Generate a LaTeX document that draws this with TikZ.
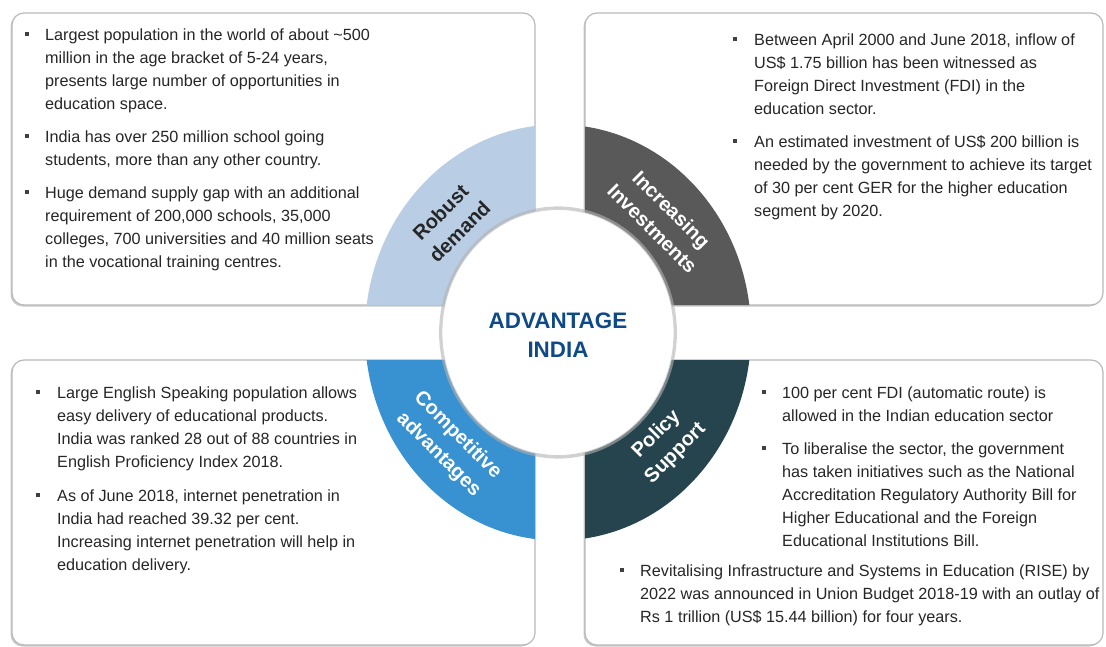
\documentclass[tikz,border=0pt]{standalone}
\usepackage{fontspec}
\setmainfont{Liberation Sans}
\usepackage{xcolor}
\usetikzlibrary{shapes.geometric,shadows}

\definecolor{demandblue}{RGB}{185,205,228}
\definecolor{investgray}{RGB}{89,89,89}
\definecolor{competeblue}{RGB}{56,145,208}
\definecolor{policyteal}{RGB}{38,68,78}
\definecolor{hubblue}{RGB}{13,74,135}
\definecolor{bodytext}{RGB}{38,38,38}
\definecolor{bulletgray}{RGB}{64,64,64}

\tikzset{
	panel/.style = {
			rectangle,
			rounded corners = 12pt,
			fill            = white,
			draw            = gray!55,
			line width      = 1.2pt,
			outer sep       = 0pt,
			inner sep       = 0pt,
			drop shadow     = {shadow xshift=-1.5pt, shadow yshift=-1.5pt, fill=gray!70, opacity=.6},
		},
	hub/.style = {
			ellipse,
			fill           = white,
			draw           = gray!35,
			line width     = .8pt,
			inner sep      = 0pt,
			minimum width  = 232pt,
			minimum height = 246pt,
			general shadow = {shadow scale=1.025, fill=gray!60, opacity=.6},
		},
	hubtitle/.style = {
			text      = hubblue,
			align     = center,
			inner sep = 0pt,
			font      = \bfseries\fontsize{22.4}{29}\selectfont,
		},
	ringlabel/.style = {
			align     = center,
			inner sep = 0pt,
			font      = \bfseries\fontsize{20}{27}\selectfont,
		},
	bullet/.style = {
			rectangle,
			fill         = bulletgray,
			minimum size = 4pt,
			inner sep    = 0pt,
		},
	para/.style = {
			anchor    = north west,
			align     = left,
			inner sep = 0pt,
			text      = bodytext,
			font      = \fontsize{16.2}{23}\selectfont,
		},
}

\begin{document}
\begin{tikzpicture}[x=1pt,y=-1pt]
	\useasboundingbox (0,0) rectangle (1106,647);
	% Panels
	\node[panel, minimum width=523pt, minimum height=292pt] (Robust demand) at (273.5,159) {};
	\node[panel, minimum width=518pt, minimum height=292pt] (Increasing Investments) at (844,159) {};
	\node[panel, minimum width=523pt, minimum height=285pt] (Competitive advantages) at (273.5,502.5) {};
	\node[panel, minimum width=518pt, minimum height=285pt] (Policy Support) at (844,502.5) {};

	\coordinate (Hub centre) at (558,332.5);

	% Ring quarters
	\begin{scope}
		\clip[rounded corners=12pt] (Robust demand.south west) rectangle (Robust demand.north east);
		\fill[demandblue] (Hub centre) ellipse [x radius=193pt, y radius=208pt];
	\end{scope}
	\begin{scope}
		\clip[rounded corners=12pt] (Increasing Investments.south west) rectangle (Increasing Investments.north east);
		\fill[investgray] (Hub centre) ellipse [x radius=193pt, y radius=208pt];
	\end{scope}
	\begin{scope}
		\clip[rounded corners=12pt] (Competitive advantages.south west) rectangle (Competitive advantages.north east);
		\fill[competeblue] (Hub centre) ellipse [x radius=193pt, y radius=208pt];
	\end{scope}
	\begin{scope}
		\clip[rounded corners=12pt] (Policy Support.south west) rectangle (Policy Support.north east);
		\fill[policyteal] (Hub centre) ellipse [x radius=193pt, y radius=208pt];
	\end{scope}

	\node[hub] (Hub) at (Hub centre) {};
	\node[hubtitle] (Advantage India) at (558,335.5) {ADVANTAGE\\INDIA};

	\node[ringlabel, rotate=45, text=bodytext] (Robust demand label) at (450,222) {Robust\\demand};
	\node[ringlabel, rotate=-45, text=white] (Increasing Investments label) at (662,219) {Increasing\\Investments};
	\node[ringlabel, rotate=-45, text=white] (Competitive advantages label) at (448,445) {Competitive\\advantages};
	\node[ringlabel, rotate=45, text=white] (Policy Support label) at (666,444) {Policy\\Support};

	% Robust demand
	\draw node[bullet] (Demand bullet1) at (27,34) {};
	\draw node[bullet] (Demand bullet2) at (27,136) {};
	\draw node[bullet] (Demand bullet3) at (27,192) {};
	\node[para] (Demand text1) at (45,24) {\strut Largest population in the world of about \textasciitilde500\\million in the age bracket of 5-24 years,\\presents large number of opportunities in\\education space.};
	\node[para] (Demand text2) at (45,126) {\strut India has over 250 million school going\\students, more than any other country.};
	\node[para] (Demand text3) at (45,182) {\strut Huge demand supply gap with an additional\\requirement of 200,000 schools, 35,000\\colleges, 700 universities and 40 million seats\\in the vocational training centres.};

	% Increasing investments
	\draw node[bullet] (Invest bullet1) at (735,39) {};
	\draw node[bullet] (Invest bullet2) at (735,141) {};
	\node[para] (Invest text1) at (754,29) {\strut Between April 2000 and June 2018, inflow of\\US\$ 1.75 billion has been witnessed as\\Foreign Direct Investment (FDI) in the\\education sector.};
	\node[para] (Invest text2) at (754,131) {\strut An estimated investment of US\$ 200 billion is\\needed by the government to achieve its target\\of 30 per cent GER for the higher education\\segment by 2020.};

	% Competitive advantages
	\draw node[bullet] (Compete bullet1) at (38,392) {};
	\draw node[bullet] (Compete bullet2) at (38,495) {};
	\node[para] (Compete text1) at (57,382) {\strut Large English Speaking population allows\\easy delivery of educational products.\\India was ranked 28 out of 88 countries in\\English Proficiency Index 2018.};
	\node[para] (Compete text2) at (57,485) {\strut As of June 2018, internet penetration in\\India had reached 39.32 per cent.\\Increasing internet penetration will help in\\education delivery.};

	% Policy support
	\draw node[bullet] (Policy bullet1) at (764,392) {};
	\draw node[bullet] (Policy bullet2) at (764,448) {};
	\draw node[bullet] (Policy bullet3) at (622,570) {};
	\node[para] (Policy text1) at (782,382) {\strut 100 per cent FDI (automatic route) is\\allowed in the Indian education sector};
	\node[para] (Policy text2) at (782,438) {\strut To liberalise the sector, the government\\has taken initiatives such as the National\\Accreditation Regulatory Authority Bill for\\Higher Educational and the Foreign\\Educational Institutions Bill.};
	\node[para] (Policy text3) at (640,560) {\strut Revitalising Infrastructure and Systems in Education (RISE) by\\2022 was announced in Union Budget 2018-19 with an outlay of\\Rs 1 trillion (US\$ 15.44 billion) for four years.};
\end{tikzpicture}
\end{document}
